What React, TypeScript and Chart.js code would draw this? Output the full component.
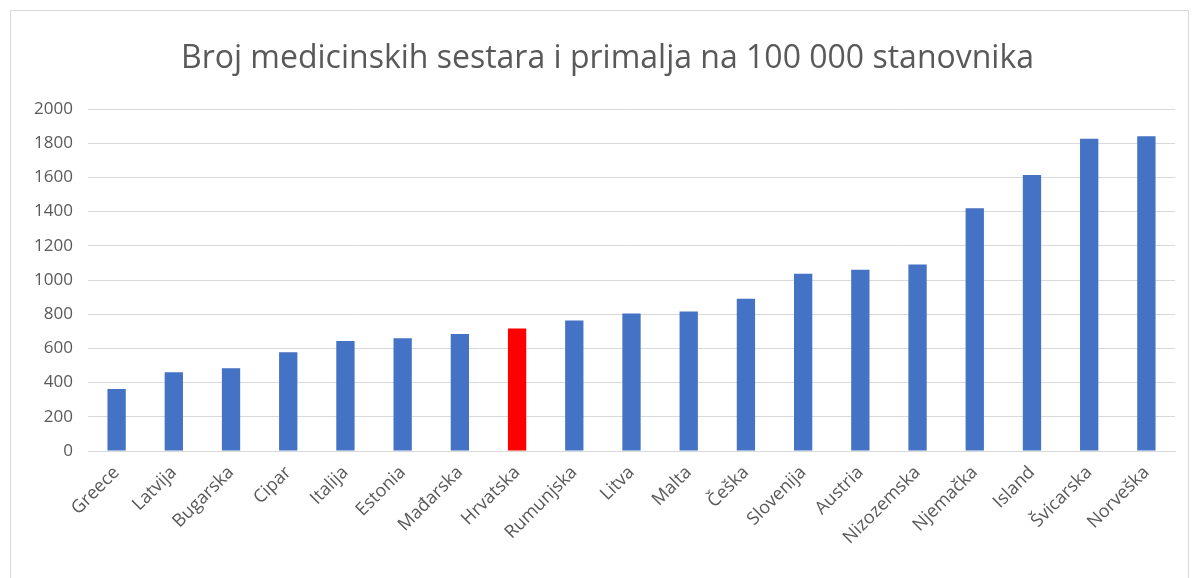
import React, { useEffect, useRef } from "react";
import { Chart, registerables } from "chart.js";

Chart.register(...registerables);

const titleText = "Broj medicinskih sestara i primalja na 100 000 stanovnika";
const countries = [
  "Greece", "Latvija", "Bugarska", "Cipar", "Italija", "Estonia", "Mađarska", "Hrvatska",
  "Rumunjska", "Litva", "Malta", "Češka", "Slovenija", "Austria", "Nizozemska",
  "Njemačka", "Island", "Švicarska", "Norveška",
];
const values = [
  362, 460, 484, 577, 643, 659, 684, 717, 763, 804, 816, 890, 1036, 1060, 1090,
  1419, 1614, 1826, 1840,
];
const highlight = "Hrvatska";
const yTicks = [0, 200, 400, 600, 800, 1000, 1200, 1400, 1600, 1800, 2000];

const BLUE = "#4472C4";
const RED = "#FF0000";
const TEXT = "#595959";
const GRID = "#D9D9D9";
const FONT = "'Open Sans', 'Liberation Sans', sans-serif";

export default function App() {
  const ref = useRef<HTMLCanvasElement | null>(null);

  useEffect(() => {
    if (!ref.current) return;
    const chart = new Chart(ref.current, {
      type: "bar",
      data: {
        labels: countries,
        datasets: [
          {
            data: values,
            backgroundColor: countries.map((c) => (c === highlight ? RED : BLUE)),
            borderWidth: 0,
            barPercentage: 0.32,
            categoryPercentage: 1,
          },
        ],
      },
      options: {
        animation: false,
        responsive: false,
        maintainAspectRatio: false,
        layout: { padding: { top: 109, right: 25, left: 0, bottom: 0 } },
        plugins: {
          legend: { display: false },
          tooltip: { enabled: false },
          title: { display: false },
        },
        scales: {
          x: {
            grid: { display: false, drawTicks: false },
            border: { display: true, color: GRID, width: 1 },
            ticks: {
              color: TEXT,
              font: { family: FONT, size: 18 },
              maxRotation: 45,
              minRotation: 45,
              autoSkip: false,
              padding: 11,
            },
            afterFit: (scale: any) => {
              scale.height = 127;
            },
          },
          y: {
            min: 0,
            max: 2000,
            afterBuildTicks: (scale: any) => {
              scale.ticks = yTicks.map((v) => ({ value: v }));
            },
            grid: { color: GRID, lineWidth: 1, drawTicks: false },
            border: { display: false },
            ticks: {
              color: TEXT,
              font: { family: FONT, size: 17 },
              padding: 15,
              callback: (v: any) => String(v),
            },
            afterFit: (scale: any) => {
              scale.width = 88;
            },
          },
        },
      },
    });
    return () => chart.destroy();
  }, []);

  return (
    <div style={{ position: "absolute", left: 0, top: 0, width: 1200, height: 578, background: "#fff" }}>
      <div
        style={{
          position: "absolute",
          left: 10,
          top: 10,
          width: 1179,
          height: 580,
          border: "1px solid #D9D9D9",
          boxSizing: "border-box",
        }}
      />
      <canvas ref={ref} width={1200} height={578} style={{ position: "absolute", left: 0, top: 0 }} />
      <div
        style={{
          position: "absolute",
          left: 40,
          width: 1135,
          top: 37,
          lineHeight: "38px",
          fontSize: 32,
          fontFamily: FONT,
          color: TEXT,
          textAlign: "center",
          whiteSpace: "nowrap",
        }}
      >
        {titleText}
      </div>
    </div>
  );
}
